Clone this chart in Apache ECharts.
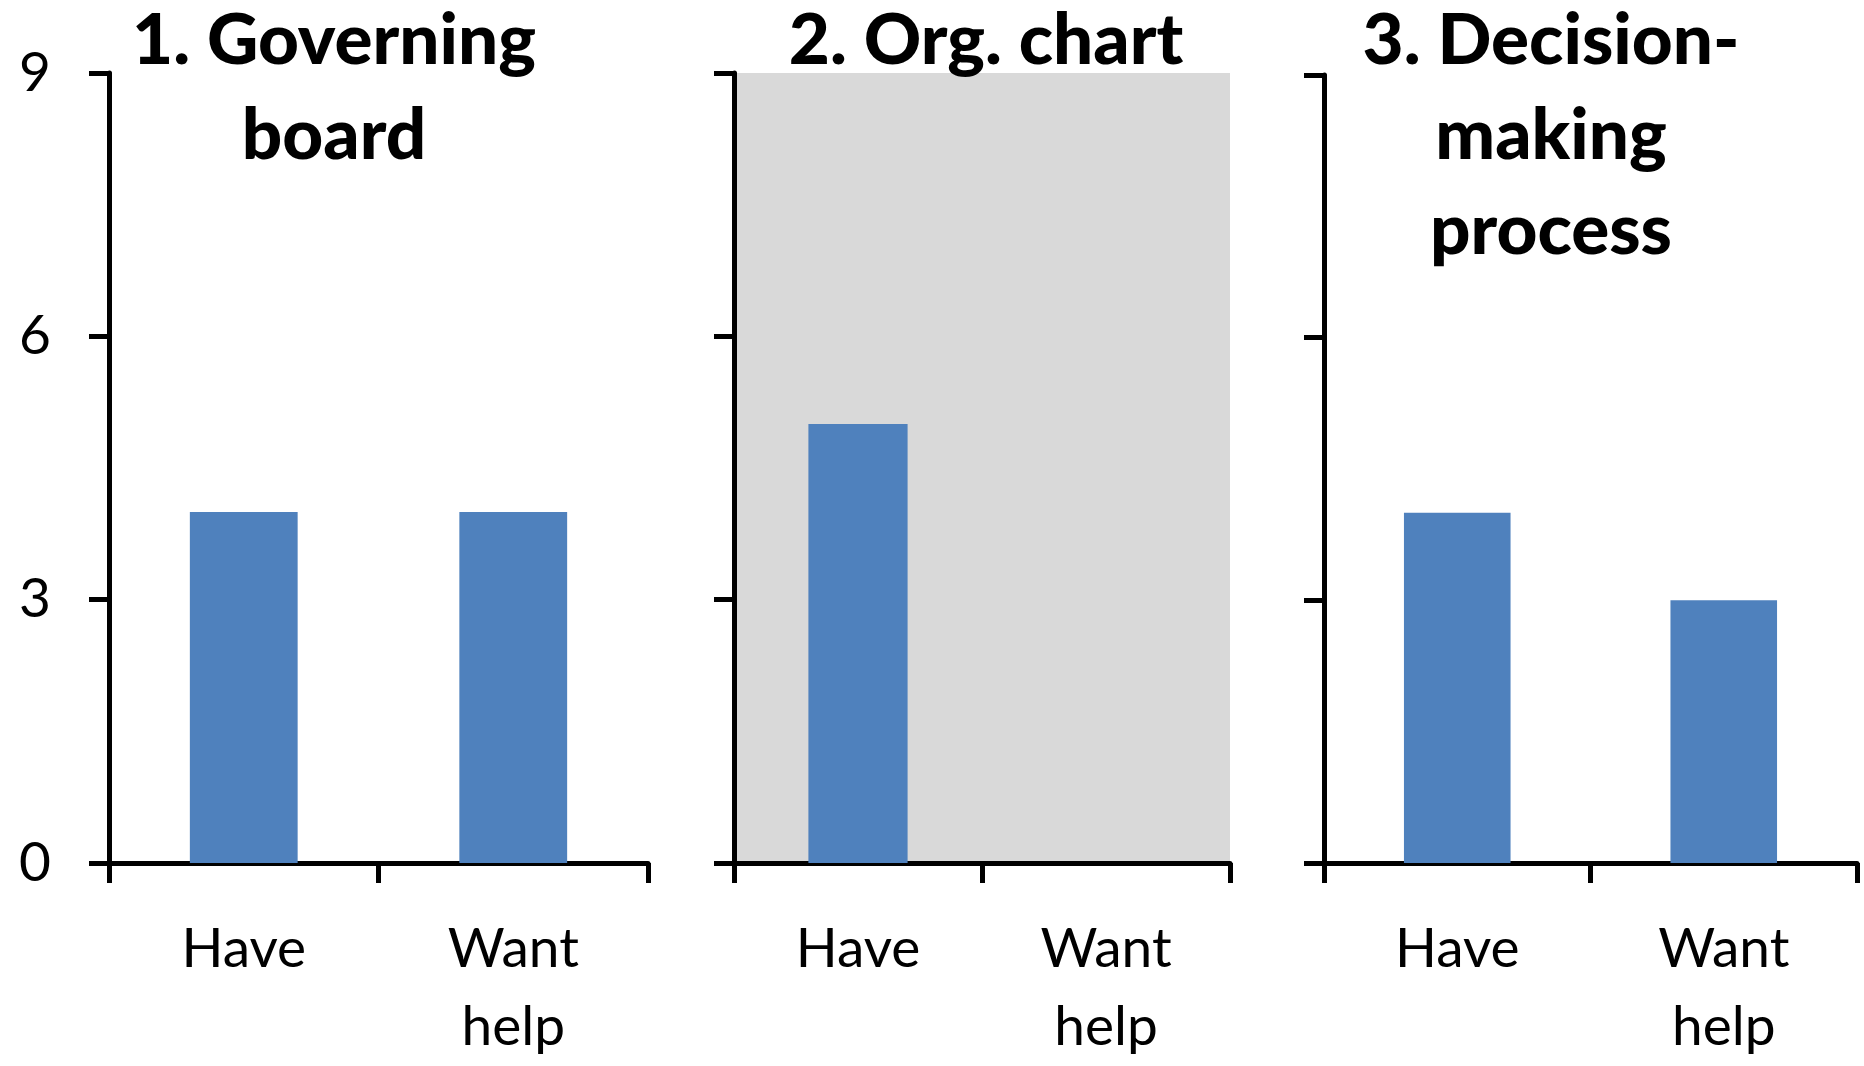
<!DOCTYPE html>
<html>
<head>
<meta charset="utf-8">
<script src="https://cdn.jsdelivr.net/npm/echarts@6/dist/echarts.min.js"></script>
<style>
  html, body { margin: 0; padding: 0; background: #ffffff; }
  #chart { width: 1864px; height: 1066px; }
</style>
</head>
<body>
<div id="chart"></div>
<script>
// Categories along each panel's x axis
const categories = ['Have', 'Want\nhelp'];

// Panel titles
const panelTitles = ['1. Governing\nboard', '2. Org. chart', '3. Decision-\nmaking\nprocess'];

// Counts per panel (Have, Want help)
const governingBoard = [4, 4];
const orgChart = [5, 0];
const decisionMaking = [4, 3];

// Value axis range
const yMin = 0;
const yMax = 9;
const yStep = 3;

const panelData = [governingBoard, orgChart, decisionMaking];

const FONT = 'Lato, "Open Sans", sans-serif';
const BAR = '#4f81bd';

// Layout of the three panels (pixels)
const grids = [
  { left: 109, top: 73, width: 539, height: 794 },
  { left: 734, top: 73, width: 496, height: 798, backgroundColor: '#d9d9d9', show: true, borderWidth: 0 },
  { left: 1324, top: 75, width: 533, height: 796 }
];
const titleCenters = [334, 986, 1551];

const chart = echarts.init(document.getElementById('chart'));

const option = {
  animation: false,
  backgroundColor: '#ffffff',
  title: panelTitles.map((t, i) => ({
    text: t,
    left: titleCenters[i],
    top: -6,
    textAlign: 'center',
    padding: 0,
    textStyle: {
      fontFamily: FONT,
      fontWeight: 900,
      fontSize: 71,
      lineHeight: 95,
      color: '#000000'
    }
  })),
  grid: grids.map(g => Object.assign({ containLabel: false }, g)),
  xAxis: grids.map((g, i) => ({
    type: 'category',
    gridIndex: i,
    data: categories,
    boundaryGap: true,
    axisLine: { show: true, lineStyle: { color: '#000000', width: 5 } },
    axisTick: { show: true, alignWithLabel: false, length: 20, lineStyle: { color: '#000000', width: 5 } },
    axisLabel: {
      color: '#000000',
      fontFamily: FONT,
      fontSize: 55,
      lineHeight: 78,
      margin: 47,
      interval: 0
    },
    splitLine: { show: false }
  })),
  yAxis: grids.map((g, i) => ({
    type: 'value',
    gridIndex: i,
    min: yMin,
    max: yMax,
    interval: yStep,
    axisLine: { show: true, lineStyle: { color: '#000000', width: 5 } },
    axisTick: { show: true, length: 20, lineStyle: { color: '#000000', width: 5 } },
    axisLabel: {
      show: i === 0,
      color: '#000000',
      fontFamily: FONT,
      fontSize: 55,
      margin: 58
    },
    splitLine: { show: false }
  })),
  series: panelData.map((d, i) => ({
    type: 'bar',
    xAxisIndex: i,
    yAxisIndex: i,
    data: d,
    barWidth: '40%',
    itemStyle: { color: BAR }
  }))
};

chart.setOption(option);
</script>
</body>
</html>
